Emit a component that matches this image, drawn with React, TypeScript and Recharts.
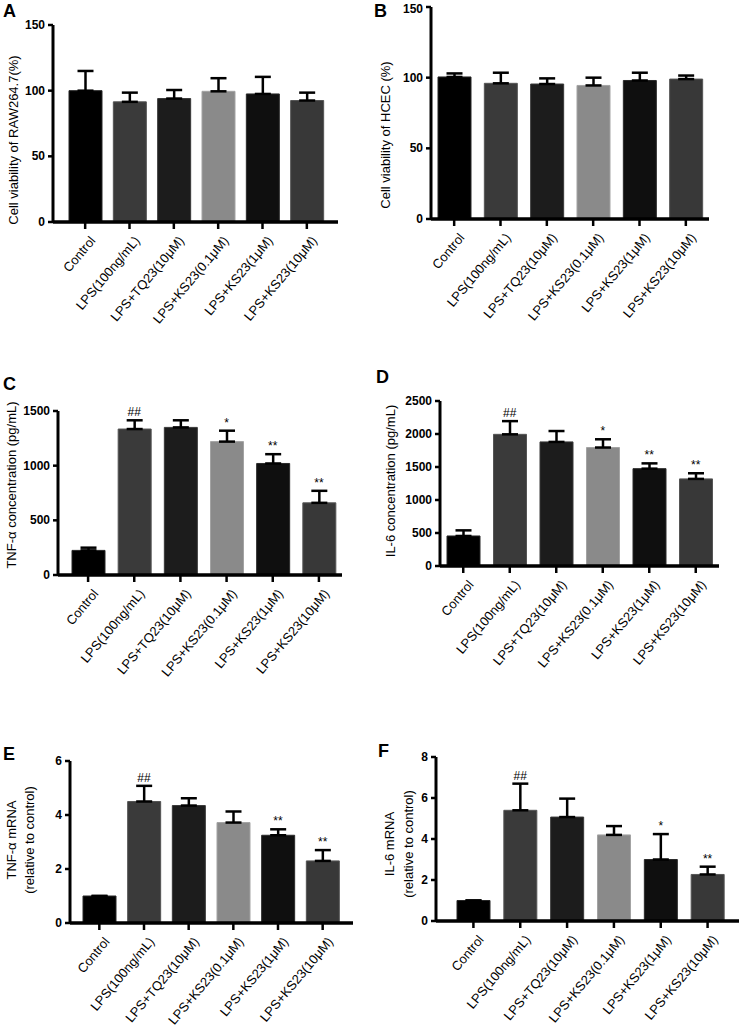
import React from "react";
import {
  ComposedChart,
  Bar,
  Cell,
  XAxis,
  YAxis,
  ErrorBar,
  Line,
  LabelList,
  ReferenceLine,
} from "recharts";

const FONT = '"Liberation Sans", Arial, Helvetica, sans-serif';

const groups = [
  "Control",
  "LPS(100ng/mL)",
  "LPS+TQ23(10μM)",
  "LPS+KS23(0.1μM)",
  "LPS+KS23(1μM)",
  "LPS+KS23(10μM)",
];

const barColors = ["#000000", "#3a3a3a", "#1c1c1c", "#8a8a8a", "#0f0f0f", "#383838"];
const barEdges = ["#262626", "#555555", "#383838", "#a3a3a3", "#2a2a2a", "#555555"];

// A - RAW264.7 viability
const rawViability = [100, 91.5, 94, 99.5, 97.5, 92.5];
const rawViabilitySd = [15, 7, 6.5, 10, 13, 6];
const viabilityTicks = [0, 50, 100, 150];

// B - HCEC viability
const hcecViability = [100.5, 96, 95.5, 94.5, 98, 99];
const hcecViabilitySd = [2.5, 7.5, 4, 5.5, 5.5, 2.5];

// C - TNF-α protein
const tnfConc = [225, 1335, 1350, 1220, 1020, 660];
const tnfConcSd = [25, 80, 65, 100, 85, 110];
const tnfConcTicks = [0, 500, 1000, 1500];
const tnfConcSig = ["", "##", "", "*", "**", "**"];

// D - IL-6 protein
const il6Conc = [455, 1995, 1880, 1795, 1475, 1320];
const il6ConcSd = [85, 200, 165, 125, 80, 85];
const il6ConcTicks = [0, 500, 1000, 1500, 2000, 2500];
const il6ConcSig = ["", "##", "", "*", "**", "**"];

// E - TNF-α mRNA
const tnfMrna = [1.0, 4.5, 4.35, 3.72, 3.25, 2.3];
const tnfMrnaSd = [0, 0.58, 0.27, 0.41, 0.22, 0.4];
const tnfMrnaTicks = [0, 2, 4, 6];
const tnfMrnaSig = ["", "##", "", "", "**", "**"];

// F - IL-6 mRNA
const il6Mrna = [1.0, 5.4, 5.07, 4.2, 3.0, 2.27];
const il6MrnaSd = [0, 1.3, 0.9, 0.43, 1.24, 0.38];
const il6MrnaTicks = [0, 2, 4, 6, 8];
const il6MrnaSig = ["", "##", "", "", "*", "**"];

function makeRows(means: number[], sds: number[], sig?: string[]) {
  return groups.map((g, i) => ({
    name: g,
    mean: means[i],
    err: [0, sds[i]],
    top: means[i] + sds[i],
    sig: sig ? sig[i] : "",
  }));
}

function RotTick(props: any) {
  const { x, y, payload } = props;
  return (
    <g transform={`translate(${x + 11},${y + 10})`}>
      <text
        x={0}
        y={0}
        textAnchor="end"
        transform="rotate(-50)"
        fill="#000"
        fontSize={13}
        fontFamily={FONT}
      >
        {payload.value}
      </text>
    </g>
  );
}

function NumTick(props: any) {
  const { x, y, payload } = props;
  return (
    <text
      x={x}
      y={y}
      textAnchor="end"
      dominantBaseline="central"
      fill="#000"
      fontSize={12}
      fontWeight={700}
      fontFamily={FONT}
    >
      {payload.value}
    </text>
  );
}

function YTitle({ lines, tx, ty }: { lines: { text: string; dx: number }[]; tx: number; ty: number }) {
  return (
    <g>
      {lines.map((l) => (
        <text
          key={l.text}
          transform={`translate(${tx + l.dx},${ty}) rotate(-90)`}
          textAnchor="middle"
          dominantBaseline="central"
          fontSize={13}
          fontFamily={FONT}
          fill="#000"
        >
          {l.text}
        </text>
      ))}
    </g>
  );
}

interface PanelProps {
  left: number;
  top: number;
  width: number;
  height: number;
  plotTop: number;
  plotBottom: number;
  plotLeft: number;
  plotRight: number;
  padL: number;
  padR: number;
  ticks: number[];
  rows: ReturnType<typeof makeRows>;
  title: { text: string; dx: number }[];
  titleX: number;
  titleY: number;
}

function Panel(p: PanelProps) {
  const max = p.ticks[p.ticks.length - 1];
  return (
    <div style={{ position: "absolute", left: p.left, top: p.top }}>
      <ComposedChart
        width={p.width}
        height={p.height}
        data={p.rows}
        margin={{ top: p.plotTop, right: p.width - p.plotRight, left: 0, bottom: 0 }}
        style={{ overflow: "visible" }}
      >
        <XAxis
          dataKey="name"
          interval={0}
          height={p.height - p.plotBottom}
          padding={{ left: p.padL, right: p.padR }}
          stroke="#000"
          strokeWidth={3}
          axisLine={{ stroke: "#000", strokeWidth: 3 }}
          tickLine={{ stroke: "#000", strokeWidth: 2.5 }}
          tickSize={7}
          tickMargin={2}
          tick={<RotTick />}
        />
        <YAxis
          type="number"
          domain={[0, max]}
          ticks={p.ticks}
          width={p.plotLeft}
          stroke="#000"
          strokeWidth={3}
          axisLine={{ stroke: "#000", strokeWidth: 3 }}
          tickLine={{ stroke: "#000", strokeWidth: 2.5 }}
          tickSize={5}
          tickMargin={3}
          tick={<NumTick />}
          label={<YTitle lines={p.title} tx={p.titleX} ty={p.titleY} />}
        />
        <Bar dataKey="mean" barSize={33} isAnimationActive={false}>
          {p.rows.map((r, i) => (
            <Cell key={r.name} fill={barColors[i]} stroke={barEdges[i]} strokeWidth={1} />
          ))}
          <ErrorBar dataKey="err" direction="y" width={8} stroke="#000" strokeWidth={2.5} />
        </Bar>
        <ReferenceLine y={0} stroke="#000" strokeWidth={3} ifOverflow="visible" />
        <Line
          dataKey="top"
          stroke="none"
          dot={false}
          activeDot={false}
          legendType="none"
          isAnimationActive={false}
        >
          <LabelList
            dataKey="sig"
            position="top"
            offset={4}
            fill="#000"
            fontSize={12}
            fontFamily={FONT}
          />
        </Line>
      </ComposedChart>
    </div>
  );
}

const letters = [
  { t: "A", x: 3, y: 17 },
  { t: "B", x: 374, y: 17 },
  { t: "C", x: 3, y: 390 },
  { t: "D", x: 376, y: 383 },
  { t: "E", x: 3, y: 760 },
  { t: "F", x: 378, y: 757 },
];

export default function App() {
  return (
    <div
      style={{
        position: "absolute",
        left: 0,
        top: 0,
        width: 742,
        height: 1036,
        background: "#fff",
        overflow: "hidden",
      }}
    >
      <Panel
        left={0}
        top={0}
        width={371}
        height={340}
        plotTop={25}
        plotBottom={222}
        plotLeft={53}
        plotRight={338}
        padL={10}
        padR={9}
        ticks={viabilityTicks}
        rows={makeRows(rawViability, rawViabilitySd)}
        title={[{ text: "Cell viability of RAW264.7(%)", dx: 0 }]}
        titleX={13}
        titleY={140}
      />
      <Panel
        left={371}
        top={0}
        width={371}
        height={340}
        plotTop={7}
        plotBottom={219}
        plotLeft={60}
        plotRight={338}
        padL={0}
        padR={0}
        ticks={viabilityTicks}
        rows={makeRows(hcecViability, hcecViabilitySd)}
        title={[{ text: "Cell viability of HCEC (%)", dx: 0 }]}
        titleX={14}
        titleY={135}
      />
      <Panel
        left={0}
        top={330}
        width={371}
        height={360}
        plotTop={81}
        plotBottom={245}
        plotLeft={58}
        plotRight={342}
        padL={7}
        padR={0}
        ticks={tnfConcTicks}
        rows={makeRows(tnfConc, tnfConcSd, tnfConcSig)}
        title={[{ text: "TNF-α concentration (pg/mL)", dx: 0 }]}
        titleX={11}
        titleY={155}
      />
      <Panel
        left={371}
        top={330}
        width={371}
        height={360}
        plotTop={71}
        plotBottom={236}
        plotLeft={69}
        plotRight={348}
        padL={0}
        padR={0}
        ticks={il6ConcTicks}
        rows={makeRows(il6Conc, il6ConcSd, il6ConcSig)}
        title={[{ text: "IL-6 concentration (pg/mL)", dx: 0 }]}
        titleX={19}
        titleY={151}
      />
      <Panel
        left={0}
        top={690}
        width={371}
        height={346}
        plotTop={71}
        plotBottom={233}
        plotLeft={70}
        plotRight={353}
        padL={7}
        padR={8}
        ticks={tnfMrnaTicks}
        rows={makeRows(tnfMrna, tnfMrnaSd, tnfMrnaSig)}
        title={[
          { text: "TNF-α  mRNA", dx: 0 },
          { text: "(relative to control)", dx: 18 },
        ]}
        titleX={11}
        titleY={150}
      />
      <Panel
        left={371}
        top={690}
        width={371}
        height={346}
        plotTop={67}
        plotBottom={231}
        plotLeft={65}
        plotRight={368}
        padL={14}
        padR={8}
        ticks={il6MrnaTicks}
        rows={makeRows(il6Mrna, il6MrnaSd, il6MrnaSig)}
        title={[
          { text: "IL-6 mRNA", dx: 0 },
          { text: "(relative to control)", dx: 19 },
        ]}
        titleX={18}
        titleY={154}
      />
      <svg
        width={742}
        height={1036}
        style={{ position: "absolute", left: 0, top: 0, pointerEvents: "none" }}
      >
        {letters.map((l) => (
          <text key={l.t} x={l.x} y={l.y} fontSize={18} fontWeight={700} fontFamily={FONT} fill="#000">
            {l.t}
          </text>
        ))}
      </svg>
    </div>
  );
}
